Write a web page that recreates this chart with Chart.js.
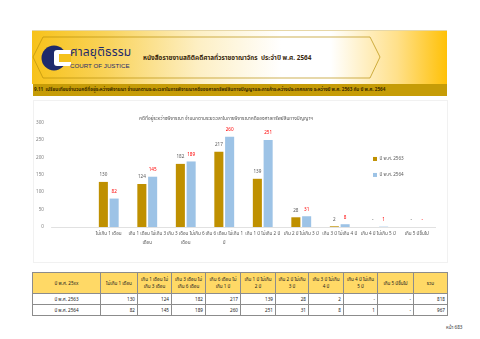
<!DOCTYPE html>
<html lang="th">
<head>
<meta charset="utf-8">
<title>คดีที่อยู่ระหว่างพิจารณา</title>
<script src="https://cdn.jsdelivr.net/npm/chart.js@4.4.1/dist/chart.umd.min.js"></script>
<style>
  html, body { margin: 0; padding: 0; background: #fff; }
  body { width: 480px; height: 339px; position: relative; overflow: hidden;
         font-family: "Noto Sans Thai", Tahoma, "Noto Sans", "DejaVu Sans", sans-serif; }
  #banner { position: absolute; left: 32px; top: 30px; width: 415px; height: 53px;
            background: linear-gradient(90deg, #F7C21A 0%, #F9D35A 18%, #FDEFC4 40%, #FFFFFF 60%, #FFFFFF 72%, #FFE08A 88%, #FFC107 100%);
            border-top: 1px solid #E6D7A8; }
  #banner svg { position: absolute; left: 0; top: 0; }
  #brand-th { position: absolute; left: 38px; top: 12px; font-size: 12px; color: #1E2A6B; letter-spacing: 0.2px; }
  #brand-en { position: absolute; left: 38px; top: 31px; font-family: "Liberation Sans", Arial, sans-serif;
              font-size: 6.2px; color: #1E2A6B; }
  #book { position: absolute; left: 111px; top: 22px; font-size: 6.4px; font-weight: bold; color: #3B2A0E; white-space: nowrap; }
  #section { position: absolute; left: 33px; top: 84px; width: 414px; height: 12px; background: #C69C07;
             font-size: 4.6px; font-weight: bold; color: #3E2C00; line-height: 12px; padding-left: 1px;
             white-space: nowrap; box-sizing: border-box; }
  #frame { position: absolute; left: 33px; top: 100px; width: 413px; height: 161px; border: 1px solid #F1F1F1; }
  #chart { position: absolute; left: 16px; top: 104px; }
  #tbl { position: absolute; left: 32px; top: 272px; border-collapse: collapse; table-layout: fixed;
         font-size: 4.6px; color: #222; }
  #tbl td, #tbl th { border: 0.8px solid #8C8C8C; padding: 0 2px; height: 10px; line-height: 7px; }
  #tbl th { background: #FFD966; font-weight: normal; text-align: center; height: 20px; }
  #tbl td { text-align: right; }
  #tbl td.rowname { text-align: center; }
  #page { position: absolute; left: 446px; top: 324px; font-size: 4.6px; color: #333; }
</style>
</head>
<body>

<div id="banner">
  <svg width="415" height="53" viewBox="0 0 415 53">
    <polyline points="11,6 338,6 348,26 338,47 11,47 1,26 11,6" fill="none" stroke="#B9900C" stroke-width="0.7"/>
    <circle cx="22" cy="27" r="12.5" fill="#1E2A6B"/>
    <path d="M25,19 h14 v16 h-14 a3,3 0 0 1 -3,-3 v-10 a3,3 0 0 1 3,-3 z" fill="#FFFFFF"/>
    <rect x="27" y="23" width="12" height="8" fill="#F5C21B"/>
  </svg>
  <div id="brand-th">ศาลยุติธรรม</div>
  <div id="brand-en">COURT OF JUSTICE</div>
  <div id="book">หนังสือรายงานสถิติคดีศาลทั่วราชอาณาจักร&nbsp; ประจำปี พ.ศ. 2564</div>
</div>

<div id="section">9.11&nbsp; เปรียบเทียบจำนวนคดีที่อยู่ระหว่างพิจารณา จำแนกตามระยะเวลาในการพิจารณาคดีของศาลทรัพย์สินทางปัญญาและการค้าระหว่างประเทศกลาง ระหว่างปี พ.ศ. 2563 กับ ปี พ.ศ. 2564</div>

<div id="frame"></div>
<canvas id="chart" width="420" height="150"></canvas>

<table id="tbl"></table>
<div id="page">หน้า 683</div>

<script>
// หมวดระยะเวลา (ช่องแรกเว้นว่างไว้ตามแผนภูมิเดิม)
const categories = [
  "",
  "ไม่เกิน 1 เดือน",
  ["เกิน 1 เดือน ไม่เกิน 3", "เดือน"],
  ["เกิน 3 เดือน ไม่เกิน 6", "เดือน"],
  ["เกิน 6 เดือน ไม่เกิน 1", "ปี"],
  "เกิน 1 ปี ไม่เกิน 2 ปี",
  "เกิน 2 ปี ไม่เกิน 3 ปี",
  "เกิน 3 ปี ไม่เกิน 4 ปี",
  "เกิน 4 ปี ไม่เกิน 5 ปี",
  "เกิน 5 ปีขึ้นไป"
];
const seriesNames = ["ปี พ.ศ. 2563", "ปี พ.ศ. 2564"];
const cases2563 = [null, 130, 124, 182, 217, 139, 28, 2, null, null];
const cases2564 = [null, 82, 145, 189, 260, 251, 31, 8, 1, null];
const totals = [818, 967];
const yTicks = [0, 50, 100, 150, 200, 250, 300];

const tableHead = [
  ["ปี พ.ศ. 25xx"],
  ["ไม่เกิน 1 เดือน"],
  ["เกิน 1 เดือน ไม่", "เกิน 3 เดือน"],
  ["เกิน 3 เดือน ไม่", "เกิน 6 เดือน"],
  ["เกิน 6 เดือน ไม่", "เกิน 1 ปี"],
  ["เกิน 1 ปี ไม่เกิน", "2 ปี"],
  ["เกิน 2 ปี ไม่เกิน", "3 ปี"],
  ["เกิน 3 ปี ไม่เกิน", "4 ปี"],
  ["เกิน 4 ปี ไม่เกิน", "5 ปี"],
  ["เกิน 5 ปีขึ้นไป"],
  ["รวม"]
];
const colWidths = [68, 37, 34, 34, 35, 35, 33, 35, 34, 36, 34];

const colors = ["#BF9000", "#9DC3E6"];
const labelColors = ["#595959", "#FF0000"];
const thaiFont = '"Noto Sans Thai", Tahoma, "Noto Sans", "DejaVu Sans", sans-serif';

// ตารางสรุปใต้แผนภูมิ
function buildTable() {
  const tbl = document.getElementById("tbl");
  let html = "<colgroup>" + colWidths.map(w => `<col style="width:${w}px">`).join("") + "</colgroup>";
  html += "<tr>" + tableHead.map(lines => `<th>${lines.join("<br>")}</th>`).join("") + "</tr>";
  [cases2563, cases2564].forEach((vals, r) => {
    const cells = vals.slice(1).map(v => `<td>${v === null ? "-" : v}</td>`).join("");
    html += `<tr><td class="rowname">${seriesNames[r]}</td>${cells}<td>${totals[r]}</td></tr>`;
  });
  tbl.innerHTML = html;
}
buildTable();

// ตัวเลขกำกับบนแท่ง ("-" เมื่อไม่มีคดี)
const valueLabels = {
  id: "valueLabels",
  afterDatasetsDraw(chart) {
    const ctx = chart.ctx;
    const zeroY = chart.scales.y.getPixelForValue(0);
    ctx.save();
    ctx.font = `4.6px ${thaiFont}`;
    ctx.textAlign = "center";
    ctx.textBaseline = "middle";
    chart.data.datasets.forEach((ds, i) => {
      const meta = chart.getDatasetMeta(i);
      ctx.fillStyle = labelColors[i];
      meta.data.forEach((bar, j) => {
        if (categories[j] === "") return;
        const v = ds.data[j];
        const top = v === null ? zeroY : bar.y;
        ctx.fillText(v === null ? "-" : String(v), bar.x, top - 6.5);
      });
    });
    ctx.restore();
  }
};

// คำอธิบายสัญลักษณ์วางในพื้นที่กราฟด้านขวา
const insideLegend = {
  id: "insideLegend",
  afterDraw(chart) {
    const ctx = chart.ctx;
    const a = chart.chartArea;
    const x = a.right - 63;
    ctx.save();
    ctx.font = `4.6px ${thaiFont}`;
    ctx.textBaseline = "middle";
    chart.data.datasets.forEach((ds, i) => {
      const y = a.top + 36 + i * 16;
      ctx.fillStyle = ds.backgroundColor;
      ctx.fillRect(x, y - 2, 4, 4);
      ctx.fillStyle = "#595959";
      ctx.fillText(ds.label, x + 6.5, y);
    });
    ctx.restore();
  }
};

new Chart(document.getElementById("chart"), {
  type: "bar",
  data: {
    labels: categories,
    datasets: [
      { label: seriesNames[0], data: cases2563, backgroundColor: colors[0] },
      { label: seriesNames[1], data: cases2564, backgroundColor: colors[1] }
    ]
  },
  options: {
    responsive: false,
    animation: false,
    devicePixelRatio: 1,
    categoryPercentage: 0.56,
    barPercentage: 0.84,
    layout: { padding: { left: 0, right: 0, top: 0, bottom: 0 } },
    plugins: {
      legend: { display: false },
      tooltip: { enabled: false },
      title: {
        display: true,
        text: "คดีที่อยู่ระหว่างพิจารณา จำแนกตามระยะเวลาในการพิจารณาคดีของศาลทรัพย์สินทางปัญญาฯ",
        color: "#595959",
        font: { family: thaiFont, size: 4.8, weight: "normal", lineHeight: 1.2 },
        padding: { top: 12, bottom: 1.2 }
      }
    },
    scales: {
      x: {
        grid: { display: false, drawTicks: false },
        border: { color: "#D9D9D9", width: 0.8 },
        ticks: {
          color: "#595959",
          font: { family: thaiFont, size: 4.6, lineHeight: 1.95 },
          padding: 3,
          autoSkip: false,
          maxRotation: 0,
          minRotation: 0
        },
        afterFit(scale) { scale.height = 27; }
      },
      y: {
        min: 0,
        max: 300,
        afterBuildTicks(scale) { scale.ticks = yTicks.map(v => ({ value: v })); },
        grid: { display: false, drawTicks: false },
        border: { display: false },
        ticks: {
          color: "#7F7F7F",
          font: { family: thaiFont, size: 4.6 },
          padding: 7
        },
        afterFit(scale) { scale.width = 35; }
      }
    }
  },
  plugins: [valueLabels, insideLegend]
});
</script>
</body>
</html>
